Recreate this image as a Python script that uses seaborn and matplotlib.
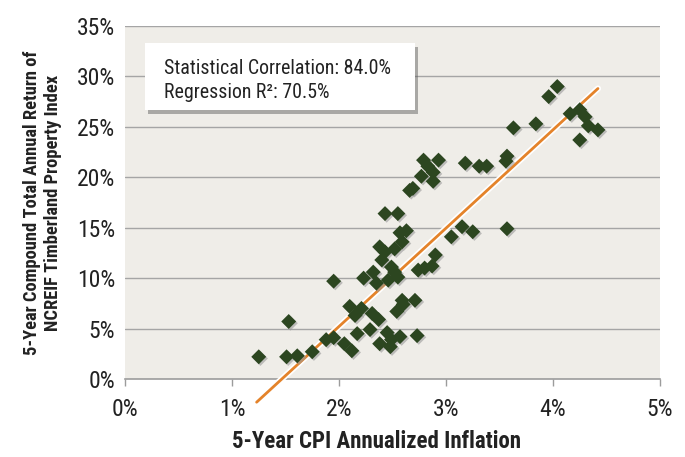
import matplotlib
matplotlib.use("Agg")
import matplotlib.pyplot as plt
import matplotlib.patheffects as pe
from matplotlib.patches import Rectangle
import numpy as np
import pandas as pd
import seaborn as sns

# ---- data ----
cpi = [1.25, 1.51, 1.61, 1.53, 1.75, 1.88, 1.95, 2.05, 2.12, 2.17,
       1.95, 2.10, 2.15, 2.21, 2.29, 2.31, 2.37, 2.38, 2.45, 2.48,
       2.49, 2.57, 2.73, 2.54, 2.60, 2.59, 2.71,
       2.23, 2.32, 2.35, 2.46, 2.49, 2.52, 2.55, 2.40, 2.38, 2.43,
       2.52, 2.59, 2.57, 2.63, 2.74, 2.80, 2.87, 2.90, 3.05, 3.15,
       3.25, 3.57, 2.43, 2.55,
       2.66, 2.69, 2.77, 2.88, 2.88, 2.83, 2.79, 2.93, 3.18, 3.31,
       3.38, 3.56, 3.57, 3.63, 3.84, 3.96, 4.04, 4.16, 4.25, 4.30,
       4.33, 4.42, 4.25]
ret = [2.2, 2.2, 2.3, 5.7, 2.7, 3.9, 4.1, 3.5, 2.8, 4.5,
       9.7, 7.2, 6.3, 7.0, 4.9, 6.5, 5.9, 3.5, 4.6, 3.2,
       3.9, 4.2, 4.3, 6.7, 7.4, 7.8, 7.8,
       10.0, 10.6, 9.5, 9.8, 11.1, 10.6, 10.1, 11.8, 13.1, 12.6,
       12.9, 13.6, 14.5, 14.7, 10.8, 11.0, 11.2, 12.3, 14.1, 15.1,
       14.6, 14.9, 16.4, 16.4,
       18.7, 18.9, 20.1, 19.6, 20.5, 21.1, 21.7, 21.7, 21.4, 21.1,
       21.1, 21.6, 22.1, 24.9, 25.3, 28.0, 29.0, 26.3, 26.7, 26.0,
       25.1, 24.7, 23.7]
trend_x = [1.23, 4.42]
trend_y = [-2.3, 28.8]
x_ticks = [0, 1, 2, 3, 4, 5]
y_ticks = [0, 5, 10, 15, 20, 25, 30, 35]
stats_lines = ["Statistical Correlation: 84.0%", "Regression R\u00b2: 70.5%"]
x_title = "5-Year CPI Annualized Inflation"
y_title = "5-Year Compound Total Annual Return of\nNCREIF Timberland Property Index"

df = pd.DataFrame({"cpi": cpi, "ret": ret})
trend = pd.DataFrame({"x": trend_x, "y": trend_y})

sns.set_theme(style="white")
FONT = ["Liberation Sans Narrow", "DejaVu Sans Condensed", "Roboto Condensed",
        "Open Sans Condensed", "Roboto", "DejaVu Sans"]
plt.rcParams["font.family"] = FONT

fig = plt.figure(figsize=(6.85, 4.57), dpi=100)
ax = fig.add_axes([125 / 685, 1 - 379 / 457, 535 / 685, 353 / 457])
ax.set_facecolor("#EFEDE8")

sns.lineplot(data=trend, x="x", y="y", ax=ax, color="#E4832A", lw=2.0, zorder=3,
             clip_on=False,
             path_effects=[pe.Stroke(linewidth=4.5, foreground="white"), pe.Normal()])
sns.scatterplot(data=df, x="cpi", y="ret", ax=ax, marker="D", s=58, color="#2C4620",
                linewidth=0, zorder=4,
                path_effects=[pe.SimplePatchShadow(offset=(1.2, -1.2), shadow_rgbFace="#9a9a9a", alpha=0.6),
                              pe.Normal()])

ax.set_xlim(0, 5)
ax.set_ylim(0, 35)
ax.set_xticks(x_ticks)
ax.set_xticklabels([f"{v}%" for v in x_ticks])
ax.set_yticks(y_ticks)
ax.set_yticklabels([f"{v}%" for v in y_ticks])

for y in y_ticks[1:]:
    ax.axhline(y, color="#A5A5A5", lw=1.0, zorder=1)

for s in ["top", "right", "left"]:
    ax.spines[s].set_visible(False)
ax.spines["bottom"].set_color("#9C9C9C")
ax.spines["bottom"].set_linewidth(1.2)
ax.tick_params(axis="x", length=5, width=1, color="#9C9C9C", pad=9, labelsize=17, labelcolor="#222222", direction="out", bottom=True)
ax.tick_params(axis="y", length=0, pad=7, labelsize=17, labelcolor="#222222")

ax.set_xlabel(x_title, fontsize=16.5, fontweight="bold", color="#222222")
ax.xaxis.set_label_coords((376 - 125) / 535, -(430 - 379) / 353)
ax.set_ylabel(y_title, fontsize=13.3, fontweight="bold", color="#222222", linespacing=1.2)
ax.yaxis.set_label_coords(-(125 - 62) / 535, 0.5)

# statistics box
box = Rectangle(((145 - 125) / 535, (379 - 110) / 353), (415 - 145) / 535, (110 - 43) / 353,
                transform=ax.transAxes, facecolor="white", edgecolor="none", zorder=6,
                path_effects=[pe.SimplePatchShadow(offset=(2, -3), shadow_rgbFace="#555555", alpha=0.45), pe.Normal()])
ax.add_patch(box)
ax.text((164 - 125) / 535, (379 - 68) / 353, stats_lines[0], transform=ax.transAxes,
        fontsize=14.3, color="#222222", va="center", ha="left", zorder=7)
ax.text((164 - 125) / 535, (379 - 92) / 353, stats_lines[1], transform=ax.transAxes,
        fontsize=14.3, color="#222222", va="center", ha="left", zorder=7)

fig.savefig("out.png", dpi=100)
